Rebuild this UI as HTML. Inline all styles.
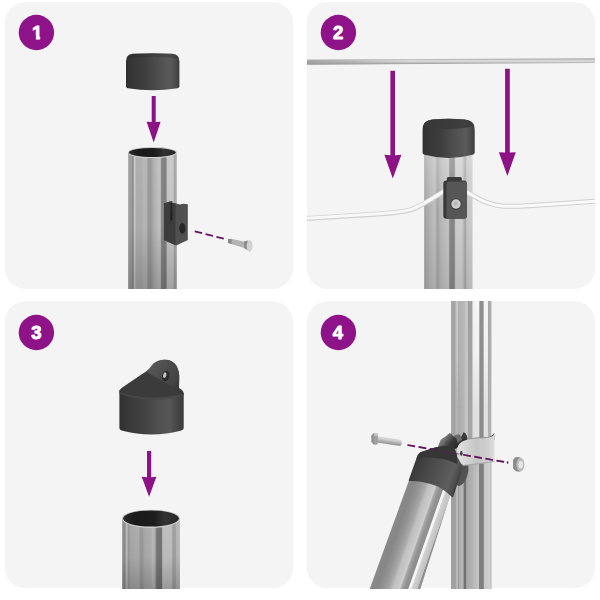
<!DOCTYPE html>
<html>
<head>
<meta charset="utf-8">
<title>Assembly steps</title>
<style>
html,body{margin:0;padding:0;background:#fff;width:600px;height:600px;overflow:hidden}
svg{display:block}
.num{font-family:"Liberation Sans",sans-serif;font-weight:bold;font-size:18.5px;fill:#fff;stroke:#fff;stroke-width:0.9px;stroke-linejoin:round;text-anchor:middle}
</style>
</head>
<body>
<svg width="600" height="600" viewBox="0 0 600 600">
<defs>
  <linearGradient id="tube" x1="0" x2="1" y1="0" y2="0">
    <stop offset="0" stop-color="#a0a0a0"/>
    <stop offset="0.07" stop-color="#a0a0a0"/>
    <stop offset="0.09" stop-color="#8c8c8c"/>
    <stop offset="0.105" stop-color="#8e8e8e"/>
    <stop offset="0.12" stop-color="#cccccc"/>
    <stop offset="0.14" stop-color="#cacaca"/>
    <stop offset="0.16" stop-color="#b0b0b0"/>
    <stop offset="0.28" stop-color="#b0b0b0"/>
    <stop offset="0.31" stop-color="#b8b8b8"/>
    <stop offset="0.38" stop-color="#b8b8b8"/>
    <stop offset="0.41" stop-color="#9a9a9a"/>
    <stop offset="0.47" stop-color="#9c9c9c"/>
    <stop offset="0.52" stop-color="#b0b0b0"/>
    <stop offset="0.63" stop-color="#c4c4c4"/>
    <stop offset="0.66" stop-color="#c2c2c2"/>
    <stop offset="0.69" stop-color="#848484"/>
    <stop offset="0.78" stop-color="#828282"/>
    <stop offset="0.8" stop-color="#c8c8c8"/>
    <stop offset="0.92" stop-color="#cccccc"/>
    <stop offset="0.95" stop-color="#a8a8a8"/>
    <stop offset="1" stop-color="#b0b0b0"/>
  </linearGradient>
  <linearGradient id="cap" x1="0" x2="1" y1="0" y2="0">
    <stop offset="0" stop-color="#2e2e2e"/>
    <stop offset="0.1" stop-color="#363636"/>
    <stop offset="0.35" stop-color="#3e3e3e"/>
    <stop offset="0.5" stop-color="#484848"/>
    <stop offset="0.65" stop-color="#515151"/>
    <stop offset="0.83" stop-color="#5a5a5a"/>
    <stop offset="0.94" stop-color="#4a4a4a"/>
    <stop offset="1" stop-color="#3a3a3a"/>
  </linearGradient>
  
  <linearGradient id="tube2" x1="0" x2="1" y1="0" y2="0">
    <stop offset="0" stop-color="#9e9e9e"/>
    <stop offset="0.04" stop-color="#a8a8a8"/>
    <stop offset="0.12" stop-color="#b4b4b4"/>
    <stop offset="0.22" stop-color="#c0c0c0"/>
    <stop offset="0.25" stop-color="#b0b0b0"/>
    <stop offset="0.28" stop-color="#a0a0a0"/>
    <stop offset="0.31" stop-color="#b0b0b0"/>
    <stop offset="0.36" stop-color="#bababa"/>
    <stop offset="0.5" stop-color="#c6c6c6"/>
    <stop offset="0.53" stop-color="#888888"/>
    <stop offset="0.62" stop-color="#868686"/>
    <stop offset="0.65" stop-color="#cecece"/>
    <stop offset="0.78" stop-color="#cecece"/>
    <stop offset="0.85" stop-color="#a4a4a4"/>
    <stop offset="0.88" stop-color="#c6c6c6"/>
    <stop offset="0.98" stop-color="#cccccc"/>
    <stop offset="1" stop-color="#d4d4d4"/>
  </linearGradient>
  <linearGradient id="wireh" x1="0" x2="0" y1="0" y2="1">
    <stop offset="0" stop-color="#c4c4c4"/>
    <stop offset="0.2" stop-color="#b8b8b8"/>
    <stop offset="0.4" stop-color="#dcdcdc"/>
    <stop offset="0.6" stop-color="#d0d0d0"/>
    <stop offset="0.78" stop-color="#a6a6a6"/>
    <stop offset="1" stop-color="#b4b4b4"/>
  </linearGradient>
  <linearGradient id="wirel" x1="0" x2="1" y1="0" y2="0">
    <stop offset="0" stop-color="#9c9c9c" stop-opacity="0.85"/>
    <stop offset="0.25" stop-color="#a0a0a0" stop-opacity="0.55"/>
    <stop offset="0.6" stop-color="#a8a8a8" stop-opacity="0"/>
  </linearGradient>
  <linearGradient id="shade" x1="0" x2="0" y1="0" y2="1">
    <stop offset="0" stop-color="#000" stop-opacity="0"/>
    <stop offset="0.55" stop-color="#000" stop-opacity="0.03"/>
    <stop offset="1" stop-color="#000" stop-opacity="0.2"/>
  </linearGradient>
  
  <linearGradient id="tube3" x1="0" x2="1" y1="0" y2="0">
    <stop offset="0" stop-color="#909090"/>
    <stop offset="0.055" stop-color="#909090"/>
    <stop offset="0.065" stop-color="#c0c0c0"/>
    <stop offset="0.085" stop-color="#bebebe"/>
    <stop offset="0.1" stop-color="#999999"/>
    <stop offset="0.12" stop-color="#9a9a9a"/>
    <stop offset="0.14" stop-color="#a8a8a8"/>
    <stop offset="0.29" stop-color="#aeaeae"/>
    <stop offset="0.31" stop-color="#9a9a9a"/>
    <stop offset="0.35" stop-color="#9a9a9a"/>
    <stop offset="0.38" stop-color="#a8a8a8"/>
    <stop offset="0.5" stop-color="#b0b0b0"/>
    <stop offset="0.53" stop-color="#bcbcbc"/>
    <stop offset="0.56" stop-color="#b4b4b4"/>
    <stop offset="0.6" stop-color="#767676"/>
    <stop offset="0.685" stop-color="#747474"/>
    <stop offset="0.7" stop-color="#c0c0c0"/>
    <stop offset="0.85" stop-color="#c0c0c0"/>
    <stop offset="0.88" stop-color="#a0a0a0"/>
    <stop offset="0.92" stop-color="#a2a2a2"/>
    <stop offset="0.94" stop-color="#b8b8b8"/>
    <stop offset="0.99" stop-color="#bcbcbc"/>
    <stop offset="1" stop-color="#c8c8c8"/>
  </linearGradient>
  <linearGradient id="post4" x1="0" x2="1" y1="0" y2="0">
    <stop offset="0" stop-color="#a8a8a8"/>
    <stop offset="0.1" stop-color="#a0a0a0"/>
    <stop offset="0.12" stop-color="#b4b4b4"/>
    <stop offset="0.165" stop-color="#b2b2b2"/>
    <stop offset="0.18" stop-color="#aaaaaa"/>
    <stop offset="0.33" stop-color="#b6b6b6"/>
    <stop offset="0.35" stop-color="#c4c4c4"/>
    <stop offset="0.41" stop-color="#c4c4c4"/>
    <stop offset="0.43" stop-color="#a4a4a4"/>
    <stop offset="0.52" stop-color="#a6a6a6"/>
    <stop offset="0.54" stop-color="#dedede"/>
    <stop offset="0.69" stop-color="#e2e2e2"/>
    <stop offset="0.71" stop-color="#8c8c8c"/>
    <stop offset="0.795" stop-color="#8c8c8c"/>
    <stop offset="0.815" stop-color="#e0e0e0"/>
    <stop offset="0.905" stop-color="#dedede"/>
    <stop offset="0.925" stop-color="#b0b0b0"/>
    <stop offset="0.98" stop-color="#b2b2b2"/>
    <stop offset="1" stop-color="#c8c8c8"/>
  </linearGradient>
  <linearGradient id="post4b" x1="0" x2="1" y1="0" y2="0">
    <stop offset="0" stop-color="#a0a0a0"/>
    <stop offset="0.11" stop-color="#a0a0a0"/>
    <stop offset="0.125" stop-color="#b8b8b8"/>
    <stop offset="0.165" stop-color="#b8b8b8"/>
    <stop offset="0.185" stop-color="#9a9a9a"/>
    <stop offset="0.21" stop-color="#b0b0b0"/>
    <stop offset="0.3" stop-color="#b8b8b8"/>
    <stop offset="0.32" stop-color="#727272"/>
    <stop offset="0.365" stop-color="#707070"/>
    <stop offset="0.385" stop-color="#a8a8a8"/>
    <stop offset="0.5" stop-color="#b0b0b0"/>
    <stop offset="0.68" stop-color="#c4c4c4"/>
    <stop offset="0.7" stop-color="#808080"/>
    <stop offset="0.8" stop-color="#808080"/>
    <stop offset="0.815" stop-color="#c8c8c8"/>
    <stop offset="0.95" stop-color="#d0d0d0"/>
    <stop offset="1" stop-color="#b4b4b4"/>
  </linearGradient>
  <linearGradient id="diag" gradientUnits="userSpaceOnUse" x1="385.6" y1="545" x2="429.1" y2="560.2">
    <stop offset="0" stop-color="#8a8a8a"/>
    <stop offset="0.13" stop-color="#868686"/>
    <stop offset="0.25" stop-color="#929292"/>
    <stop offset="0.38" stop-color="#a6a6a6"/>
    <stop offset="0.46" stop-color="#c0c0c0"/>
    <stop offset="0.56" stop-color="#c8c8c8"/>
    <stop offset="0.6" stop-color="#d0d0d0"/>
    <stop offset="0.63" stop-color="#a8a8a8"/>
    <stop offset="0.7" stop-color="#929292"/>
    <stop offset="0.77" stop-color="#8e8e8e"/>
    <stop offset="0.79" stop-color="#f8f8f8"/>
    <stop offset="0.83" stop-color="#f4f4f4"/>
    <stop offset="0.85" stop-color="#d2d2d2"/>
    <stop offset="0.965" stop-color="#c0c0c0"/>
    <stop offset="0.98" stop-color="#8a8a8a"/>
    <stop offset="1" stop-color="#909090"/>
  </linearGradient>
  <linearGradient id="topfade" x1="0" x2="0" y1="0" y2="1">
    <stop offset="0" stop-color="#fff" stop-opacity="0.55"/>
    <stop offset="1" stop-color="#fff" stop-opacity="0"/>
  </linearGradient>
  <linearGradient id="cap3" x1="0" x2="1" y1="0" y2="0">
    <stop offset="0" stop-color="#303030"/>
    <stop offset="0.12" stop-color="#383838"/>
    <stop offset="0.4" stop-color="#434343"/>
    <stop offset="0.6" stop-color="#4f4f4f"/>
    <stop offset="0.78" stop-color="#575757"/>
    <stop offset="0.9" stop-color="#464646"/>
    <stop offset="1" stop-color="#3a3a3a"/>
  </linearGradient>
  
  <linearGradient id="band" x1="0" x2="1" y1="0" y2="0">
    <stop offset="0" stop-color="#e2e2e2"/>
    <stop offset="0.2" stop-color="#d8d8d8"/>
    <stop offset="0.5" stop-color="#c6c6c6"/>
    <stop offset="0.8" stop-color="#cecece"/>
    <stop offset="1" stop-color="#dedede"/>
  </linearGradient>
  <linearGradient id="cap4" gradientUnits="userSpaceOnUse" x1="412" y1="468" x2="458" y2="484">
    <stop offset="0" stop-color="#383838"/>
    <stop offset="0.25" stop-color="#454545"/>
    <stop offset="0.6" stop-color="#555555"/>
    <stop offset="0.82" stop-color="#5e5e5e"/>
    <stop offset="0.94" stop-color="#4a4a4a"/>
    <stop offset="1" stop-color="#3c3c3c"/>
  </linearGradient>
  
  <linearGradient id="post4top" x1="0" x2="1" y1="0" y2="0">
    <stop offset="0" stop-color="#a8a8a8"/>
    <stop offset="0.1" stop-color="#a2a2a2"/>
    <stop offset="0.12" stop-color="#c8c8c8"/>
    <stop offset="0.165" stop-color="#c8c8c8"/>
    <stop offset="0.18" stop-color="#b0b0b0"/>
    <stop offset="0.33" stop-color="#b8b8b8"/>
    <stop offset="0.35" stop-color="#c4c4c4"/>
    <stop offset="0.41" stop-color="#c4c4c4"/>
    <stop offset="0.43" stop-color="#a0a0a0"/>
    <stop offset="0.52" stop-color="#a0a0a0"/>
    <stop offset="0.54" stop-color="#f2f2f2"/>
    <stop offset="0.69" stop-color="#f6f6f6"/>
    <stop offset="0.71" stop-color="#8e8e8e"/>
    <stop offset="0.795" stop-color="#8e8e8e"/>
    <stop offset="0.815" stop-color="#f4f4f4"/>
    <stop offset="0.905" stop-color="#f2f2f2"/>
    <stop offset="0.925" stop-color="#a8a8a8"/>
    <stop offset="0.98" stop-color="#acacac"/>
    <stop offset="1" stop-color="#c8c8c8"/>
  </linearGradient>
  <linearGradient id="fadeg" x1="0" x2="0" y1="0" y2="1">
    <stop offset="0" stop-color="#fff"/>
    <stop offset="0.5" stop-color="#fff" stop-opacity="0.8"/>
    <stop offset="1" stop-color="#fff" stop-opacity="0"/>
  </linearGradient>
  <mask id="fadem" maskUnits="userSpaceOnUse" x="440" y="300" width="60" height="120">
    <rect x="440" y="300" width="60" height="110" fill="url(#fadeg)"/>
  </mask>
  <linearGradient id="eye4" gradientUnits="userSpaceOnUse" x1="441" y1="436" x2="455" y2="447">
    <stop offset="0" stop-color="#9a9a9a"/>
    <stop offset="0.3" stop-color="#6e6e6e"/>
    <stop offset="0.65" stop-color="#3a3a3a"/>
    <stop offset="1" stop-color="#2c2c2c"/>
  </linearGradient>
  <linearGradient id="boltg" gradientUnits="userSpaceOnUse" x1="389.6" y1="437.8" x2="388.6" y2="444.6">
    <stop offset="0" stop-color="#c4c4c4"/>
    <stop offset="0.25" stop-color="#d6d6d6"/>
    <stop offset="0.6" stop-color="#b0b0b0"/>
    <stop offset="1" stop-color="#8c8c8c"/>
  </linearGradient>
  <linearGradient id="eye3" gradientUnits="userSpaceOnUse" x1="150" y1="362" x2="180" y2="384">
    <stop offset="0" stop-color="#5a5a5a"/>
    <stop offset="0.4" stop-color="#4e4e4e"/>
    <stop offset="0.8" stop-color="#444"/>
    <stop offset="1" stop-color="#3a3a3a"/>
  </linearGradient>
  <linearGradient id="inner" x1="0" x2="1" y1="0" y2="0">
    <stop offset="0" stop-color="#2a2a2a"/>
    <stop offset="0.2" stop-color="#1a1a1a"/>
    <stop offset="0.55" stop-color="#1c1c1c"/>
    <stop offset="0.75" stop-color="#333"/>
    <stop offset="1" stop-color="#262626"/>
  </linearGradient>
  <clipPath id="lineclip"><rect x="400" y="430" width="34" height="40"/><rect x="462.5" y="430" width="60" height="40"/></clipPath>
  <clipPath id="c1"><rect x="5" y="2" width="288" height="287" rx="21"/></clipPath>
  <clipPath id="c2"><rect x="307" y="2" width="288" height="287" rx="21"/></clipPath>
</defs>
<rect width="600" height="600" fill="#fff"/>
<!-- panels -->
<rect x="4.7" y="1.9" width="288.5" height="287" rx="21" fill="#f4f4f4"/>
<rect x="306.8" y="1.9" width="288.4" height="287" rx="21" fill="#f4f4f4"/>
<rect x="4.7" y="301.2" width="288.5" height="287" rx="21" fill="#f4f4f4"/>
<rect x="306.8" y="301.2" width="288.4" height="287" rx="21" fill="#f4f4f4"/>

<!-- PANEL 1 -->
<g id="p1" clip-path="url(#c1)">
  <!-- cap -->
  <path d="M126 61.5 Q126 54.4 133 53.8 Q152.7 52.9 172.4 53.8 Q179.4 54.4 179.4 61.5 L179.4 86.3 Q179.4 88 177.6 88.3 Q152.7 92.3 127.8 88.3 Q126 88 126 86.3 Z" fill="url(#cap)"/>
  <path d="M126.6 58.6 Q127.4 54.4 133 53.8 Q152.7 52.9 172.4 53.8 Q178 54.4 178.8 58.6 Q152.7 55 126.6 58.6 Z" fill="#2c2c2c" opacity="0.35"/>
  <!-- arrow -->
  <path d="M151.7 96 L155.7 96 L155.7 122 L160.6 121.7 L153.7 142.6 L146.6 121.7 L151.7 122 Z" fill="#8c1286"/>
  <!-- tube -->
  <path d="M128.2 152.5 A24.3 5.3 0 0 1 176.8 152.5 L176.8 300 L128.2 300 Z" fill="url(#tube)"/>
  <rect x="128.2" y="152" width="48.6" height="137" fill="url(#shade)"/>
  <ellipse cx="152.5" cy="152.7" rx="24.3" ry="5.4" fill="#d6d6d6"/>
  <ellipse cx="152.3" cy="152.5" rx="23.4" ry="4.5" fill="url(#inner)"/>
  <!-- bracket -->
  <path d="M164 203.5 L170 201.4 L172.2 201.2 L172.2 202.8 L176 203.6 L180 204.6 L183 203.7 L187.8 204.2 L187.8 240 L176.3 245.6 L164 240 Z" fill="#505050"/>
  <path d="M164 203.5 L170 201.4 L172.2 201.2 L172.2 202.8 L175.5 203.6 L175.5 245.2 L164 240 Z" fill="#3c3c3c"/>
  <path d="M170.6 203 L172 203 L172.4 214 Q172.8 220.6 171.2 221 Q169.6 220.6 170.2 214 Z" fill="#232323"/>
  <ellipse cx="182.4" cy="228.3" rx="3.1" ry="5.2" fill="#272727"/>
  <!-- dashes -->
  <path d="M194.7 231.3 L224 238.75" stroke="#641560" stroke-width="1.75" stroke-dasharray="7.6 3.6" fill="none"/>
  <!-- screw -->
  <path d="M228 238.9 L231 238.8 L245 241.8 L247.6 240.6 L250 251.6 L245 248.2 L231 244 L228 243 Z" fill="#b4b4b4"/>
  <path d="M244 241.6 L247.6 240.6 L250 251.6 L244 248 Z" fill="#8e8e8e"/>
  <path d="M228 238.9 L231.6 238.9 L231.6 244.1 L228 243 Z" fill="#8a8a8a"/>
  <ellipse cx="249.6" cy="245.9" rx="2.9" ry="5.9" fill="#d2d2d2"/>
</g>
<!-- PANEL 2 -->
<g id="p2" clip-path="url(#c2)">
  <!-- top wire -->
  <path d="M306.8 59.7 L595.2 58 L595.2 63.1 L306.8 64.7 Z" fill="url(#wireh)"/>
  <path d="M306.8 59.7 L480 58.7 L480 63.7 L306.8 64.7 Z" fill="url(#wirel)"/>
  <!-- arrows -->
  <path d="M390.4 70.8 L395 70.8 L395 155.2 L401.4 154.8 L392.8 178.4 L384.4 154.8 L390.4 155.2 Z" fill="#8c1286"/>
  <path d="M505.1 68.7 L509.8 68.7 L509.8 152.6 L515.8 152.2 L507.4 176 L498.9 152.2 L505.1 152.6 Z" fill="#8c1286"/>
  <!-- tube -->
  <rect x="424.2" y="140" width="48.4" height="149" fill="url(#tube2)"/>
  <rect x="424.2" y="150" width="48.4" height="139" fill="url(#shade)" opacity="0.45"/>
  <rect x="424.2" y="150" width="48.4" height="60" fill="url(#topfade)" opacity="0.5"/>
  <!-- cap -->
  <path d="M422.6 129.5 Q422.6 120.4 432.5 119.4 Q448.6 117.9 464.7 119.4 Q474.7 120.4 474.7 129.5 L474.7 152.4 Q474.7 154.3 472.6 154.8 Q448.6 161.4 424.7 154.8 Q422.6 154.3 422.6 152.4 Z" fill="url(#cap)"/>
  <path d="M423.4 126 Q424.6 120.6 432.5 119.6 Q448.6 118.1 464.7 119.6 Q472.7 120.6 473.9 126 Q448.6 132.6 423.4 126 Z" fill="#3a3a3a" opacity="0.85"/>
  <!-- lower wire left -->
  <path d="M306 218.6 L375 214.2 C392 213.2 404 212.2 412 209.4 C424 204.8 434 197.4 446 190.2" stroke="#d0d0d0" stroke-width="5" fill="none"/>
  <path d="M306 218.6 L375 214.2 C392 213.2 404 212.2 412 209.4 C424 204.8 434 197.4 446 190.2" stroke="#f8f8f8" stroke-width="3" fill="none" transform="translate(0,-0.3)"/>
  <!-- lower wire right -->
  <path d="M465 191 L470 193.9 L480.7 199.7 C486 202.5 491.3 204.6 502 206 C512 206.7 520 206.2 532 205.4 C552 204.2 575 202.6 596 201.3" stroke="#d0d0d0" stroke-width="5" fill="none"/>
  <path d="M465 191 L470 193.9 L480.7 199.7 C486 202.5 491.3 204.6 502 206 C512 206.7 520 206.2 532 205.4 C552 204.2 575 202.6 596 201.3" stroke="#fafafa" stroke-width="3" fill="none"/>
  <!-- bracket -->
  <rect x="446.8" y="177" width="15" height="6" rx="1.5" fill="#3a3a3a"/>
  <rect x="443.3" y="180.6" width="23.6" height="38.2" rx="3.2" fill="#383838"/>
  <rect x="446.4" y="181.4" width="20.5" height="37.2" rx="2.8" fill="#565656"/>
  <circle cx="456" cy="204" r="5.9" fill="#464646"/>
  <circle cx="456" cy="204" r="4.7" fill="#cdcdcd"/>
  <circle cx="455.6" cy="203.8" r="2" fill="#b4b4b4"/>
</g>
<!-- PANEL 3 -->
<g id="p3">
  <!-- cap with eye -->
  <path d="M119.4 390 L119.4 428 Q119.4 430 121.6 430.4 Q151.5 438.4 181.4 430.4 Q183.7 430 183.7 428 L183.7 393 Z" fill="url(#cap3)"/>
  <path d="M119.4 391.8 Q119.4 389.6 121.6 388 L142.5 373.8 Q146 371.8 149 369 Q156 361.2 164 359.8 Q172 359 176.4 365.5 Q179.6 371 179.2 379 L179 388 Q183.9 390.6 183.7 393.8 Q151.5 402.6 119.4 391.8 Z" fill="#3b3b3b"/>
  <path d="M119.4 391.8 Q151.5 402.6 183.7 393.8 L183.7 396 Q151.5 404.8 119.4 394 Z" fill="#484848" opacity="0.8"/>
  <path d="M146.5 372 Q149 369.6 153 363.8 Q158 359.7 164 359.8 Q171.4 360.2 175.8 365.4 Q179.5 370.6 179.2 378 L179 388 Q169 386 160 379.6 Q152 375 146.5 372 Z" fill="url(#eye3)"/>
  <ellipse cx="165.8" cy="376" rx="3.6" ry="5.4" transform="rotate(14 165.8 376)" fill="#2b2b2b"/>
  <ellipse cx="164.8" cy="375.2" rx="1.6" ry="2.9" transform="rotate(14 164.8 375.2)" fill="#c6c6c6"/>
  <!-- arrow -->
  <path d="M147 451 L151.2 451 L151.2 477.2 L156.4 476.8 L149.1 496.8 L141.7 476.8 L147 477.2 Z" fill="#8c1286"/>
  <!-- tube -->
  <path d="M122.2 518.8 A28.9 9 0 0 1 180 518.8 L180 589 L122.2 589 Z" fill="url(#tube3)"/>
  <rect x="122.2" y="519" width="57.8" height="70" fill="url(#shade)"/>
  <ellipse cx="151.1" cy="518.9" rx="28.9" ry="9" fill="#d0d0d0"/>
  <ellipse cx="151" cy="518.5" rx="27.9" ry="8" fill="url(#inner)"/>
</g>
<!-- PANEL 4 -->
<g id="p4">
  <!-- vertical post -->
  <rect x="451" y="301" width="40.5" height="160" fill="url(#post4)"/>
  <rect x="451" y="301" width="40.5" height="109" fill="url(#post4top)" mask="url(#fadem)"/>
  <rect x="451" y="455" width="40.5" height="134" fill="url(#post4b)"/>
  <!-- diagonal tube -->
  <path d="M413.5 468 L458.3 470 L420.3 589 L369.7 589 Z" fill="url(#diag)"/>
  <!-- shadow between cap and post -->
  <path d="M456 458 L468 463.5 Q469.4 472 466 479 Q463 485 459 486 L454 484 Z" fill="#525252"/>
  <!-- eye of cap -->
  <path d="M453 437 Q456 433.8 459 434.2 L461.4 436.6 L463.7 432.3 Q466.8 434 467.4 438.6 L463 443 L457 447 Z" fill="#6c6c6c"/>
  <path d="M461.2 437.4 L463.7 432.3 Q466.8 434 467.4 438.6 L462.5 440.4 Z" fill="#3c3c3c"/>
  <path d="M437.6 447.5 L440.5 440 Q443 437.6 445.3 436.7 L449.6 432.9 Q451.6 433.4 453 436 L456.4 438.4 L459 448 L440 452 Z" fill="url(#eye4)"/>
  <!-- clamp band -->
  <path d="M487 437.4 Q492 436.4 494.3 432.8 L494.5 440 L487 441 Z" fill="#6a6a6a"/>
  <path d="M456.8 448.5 Q457.2 444.6 459.6 442.6 Q462.5 440.2 466.5 439.2 Q477 437.4 487.5 437.5 Q492.4 437.6 494.5 434.2 L494.5 461.6 Q482 463.8 470 464.9 L463.4 465.6 Q459.6 463.4 458.3 458.8 Q456.8 453.4 456.8 448.5 Z" fill="url(#band)"/>
  <path d="M466.5 439.2 Q477 437.4 487.5 437.5" stroke="#8a8a8a" stroke-width="0.9" fill="none"/>
  <path d="M456.9 447.4 Q457.4 444.2 459.6 442.4 Q462.5 440 466.8 439" stroke="#2e2e2e" stroke-width="1.5" fill="none"/>
  <path d="M463.4 465.4 L470 464.7 Q482 463.6 494.5 461.4" stroke="#9a9a9a" stroke-width="0.8" fill="none"/>
  <ellipse cx="461.3" cy="453.4" rx="1.2" ry="2.3" fill="#333"/>
  <!-- dashed line under cap -->
  <path d="M407.5 445 L505 462.1" stroke="#641560" stroke-width="1.75" stroke-dasharray="7.7 3.6" fill="none" clip-path="url(#lineclip)"/>
  <!-- cap body -->
  <path d="M408.7 480.2 L416.3 458.7 Q417.5 454.5 420.4 452.3 L435 447.6 Q444 444.8 452 446.6 Q456 449 457.2 457.5 Q462.5 464 461.8 470.3 L453.4 496.4 Q452.6 498 451.4 496.6 Q446 491 438.5 486.7 Q424 480.8 409.6 481 Q408.3 481 408.7 480.2 Z" fill="url(#cap4)"/>
  <path d="M416.3 458.7 Q417.5 454.5 420.4 452.3 L435 447.6 Q444 444.8 452 446.6 Q456 449 457.2 457.5 Q458 461 457 464 Q438 455 416.3 458.7 Z" fill="#363636"/>
  <!-- dashed line over cap (faded) -->
  <path d="M407.5 445 L505 462.1" stroke="#641560" stroke-width="1.75" stroke-dasharray="7.7 3.6" fill="none" opacity="0.4"/>
  <ellipse cx="507.6" cy="462.5" rx="0.8" ry="1.2" fill="#641560"/>
  <!-- bolt -->
  <path d="M377 436.4 L400 439.8 Q401.8 440.2 401.8 443 Q401.8 445.8 400 446 L377 442.6 Z" fill="url(#boltg)"/>
  <path d="M371.5 435.4 L373.6 433.2 L377.4 433.4 L378 436 L378 442.6 L377.4 444.6 L374.2 444.8 L371.5 442 Z" fill="#a2a2a2"/>
  <path d="M373.6 433.2 L377.4 433.4 L378 436 L374.4 436.2 Z" fill="#c4c4c4"/>
  <path d="M371.5 435.4 L373.6 433.2 L374.4 436.2 L374.2 444.8 L371.5 442 Z" fill="#929292"/>
  <!-- nut -->
  <path d="M513 460.5 L515 457.6 L519.6 457.1 L523.2 459.6 L524.2 464.4 L523.4 469 L520.4 471.5 L516 471.3 L513.2 468.4 Z" fill="#a6a6a6"/>
  <path d="M513 460.5 L515 457.6 L519.6 457.1 L517.6 459.4 L516.4 464.4 L517.4 469.4 L520.4 471.5 L516 471.3 L513.2 468.4 Z" fill="#8c8c8c"/>
  <ellipse cx="520.4" cy="464.5" rx="3.9" ry="6.4" fill="#bdbdbd"/>
  <ellipse cx="520.7" cy="464.8" rx="2.3" ry="3.8" fill="#e6e6e6"/>
</g>

<!-- badges -->
<g id="badges">
  <circle cx="36.4" cy="32.5" r="17.7" fill="#8f1388"/>
  <text class="num" x="37.2" y="39.1">1</text>
  <path d="M31 35.6 H35.9 V41.5 H31 Z M40.2 35.6 H45 V41.5 H40.2 Z" fill="#8f1388"/>
  <circle cx="338.4" cy="32.5" r="17.7" fill="#8f1388"/>
  <text class="num" x="338.2" y="39.1">2</text>
  <circle cx="36.4" cy="332.5" r="17.7" fill="#8f1388"/>
  <text class="num" x="36.5" y="339.1">3</text>
  <circle cx="338.4" cy="332.5" r="17.7" fill="#8f1388"/>
  <text class="num" x="338" y="338.9">4</text>
</g>
</svg>
</body>
</html>
